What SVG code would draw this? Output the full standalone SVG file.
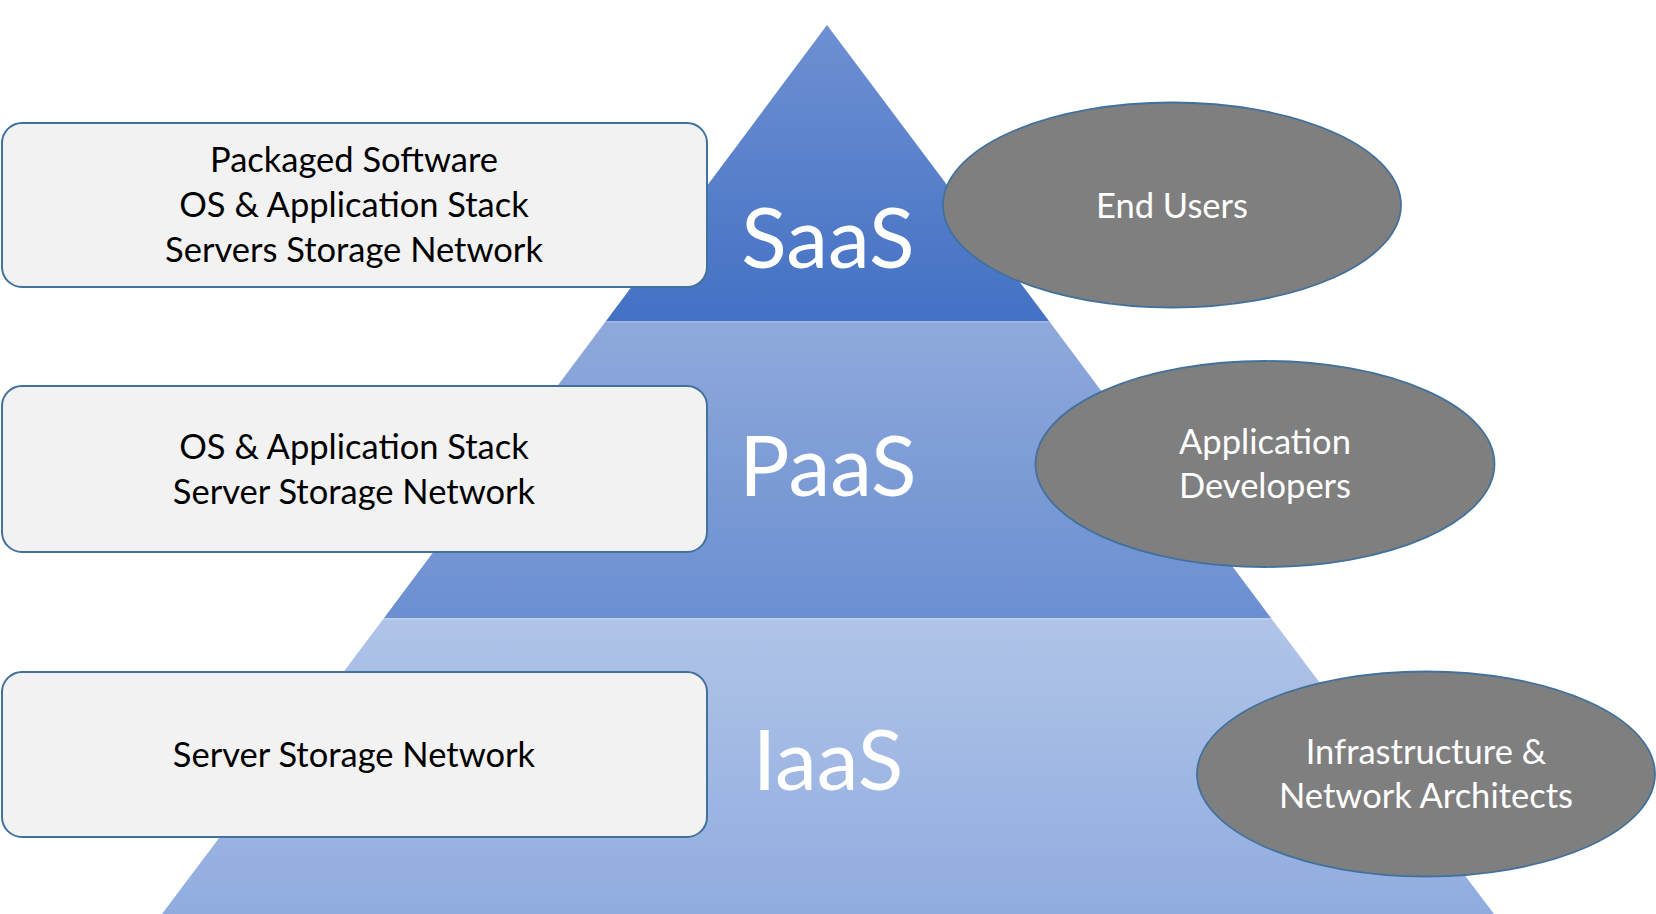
<svg xmlns="http://www.w3.org/2000/svg" width="1656" height="914" viewBox="0 0 1656 914">
  <defs>
    <linearGradient id="gSaaS" x1="0" y1="0" x2="0" y2="1">
      <stop offset="0" stop-color="#6e90d2"/>
      <stop offset="1" stop-color="#4371c4"/>
    </linearGradient>
    <linearGradient id="gPaaS" x1="0" y1="0" x2="0" y2="1">
      <stop offset="0" stop-color="#8fa9db"/>
      <stop offset="1" stop-color="#6b8fd1"/>
    </linearGradient>
    <linearGradient id="gIaaS" x1="0" y1="0" x2="0" y2="1">
      <stop offset="0" stop-color="#b0c4e8"/>
      <stop offset="1" stop-color="#90acdf"/>
    </linearGradient>
    <style>
      .box { fill: #f2f2f2; stroke: #41719c; stroke-width: 2; }
      .oval { fill: #7f7f7f; stroke: #41719c; stroke-width: 1.8; }
      .bt { font-family: Lato, "Liberation Sans", sans-serif; font-size: 34.5px; fill: #000000; text-anchor: middle; }
      .ot { font-family: Lato, "Liberation Sans", sans-serif; font-size: 34.5px; fill: #ffffff; text-anchor: middle; }
      .big { font-family: Lato, "Liberation Sans", sans-serif; font-size: 84px; fill: #ffffff; text-anchor: middle; }
    </style>
  </defs>
  <rect width="1656" height="914" fill="#ffffff"/>

  <g id="pyramid">
    <g id="saas-band">
      <polygon points="827,25 1049,321 606,321" fill="url(#gSaaS)"/>
      <text class="big" x="828" y="268">SaaS</text>
    </g>
    <g id="paas-band">
      <polygon points="606,321 1049,321 1271,618 384,618" fill="url(#gPaaS)"/>
      <line x1="607" y1="322" x2="1048" y2="322" stroke="#a3b9e3" stroke-width="1.5"/>
      <text class="big" x="828" y="496">PaaS</text>
    </g>
    <g id="iaas-band">
      <polygon points="384,618 1271,618 1494,914 162,914" fill="url(#gIaaS)"/>
      <line x1="385" y1="619" x2="1270" y2="619" stroke="#c2d2ee" stroke-width="1.5"/>
      <text class="big" x="828" y="790">IaaS</text>
    </g>
  </g>

  <g id="box-saas">
    <rect class="box" x="2" y="123" width="705" height="164" rx="20" ry="20"/>
    <text class="bt" x="354" y="172">Packaged Software</text>
    <text class="bt" x="354" y="217">OS &amp; Application Stack</text>
    <text class="bt" x="354" y="262">Servers Storage Network</text>
  </g>

  <g id="box-paas">
    <rect class="box" x="2" y="386" width="705" height="166" rx="20" ry="20"/>
    <text class="bt" x="354" y="459">OS &amp; Application Stack</text>
    <text class="bt" x="354" y="504">Server Storage Network</text>
  </g>

  <g id="box-iaas">
    <rect class="box" x="2" y="672" width="705" height="165" rx="20" ry="20"/>
    <text class="bt" x="354" y="767">Server Storage Network</text>
  </g>

  <g id="oval-end-users">
    <ellipse class="oval" cx="1172" cy="205" rx="229" ry="102.5"/>
    <text class="ot" x="1172" y="217.5">End Users</text>
  </g>

  <g id="oval-app-devs">
    <ellipse class="oval" cx="1265" cy="464" rx="229.5" ry="103"/>
    <text class="ot" x="1265" y="453.5">Application</text>
    <text class="ot" x="1265" y="497.5">Developers</text>
  </g>

  <g id="oval-infra">
    <ellipse class="oval" cx="1426" cy="774" rx="229" ry="102.5"/>
    <text class="ot" x="1426" y="763.5">Infrastructure &amp;</text>
    <text class="ot" x="1426" y="808">Network Architects</text>
  </g>
</svg>
